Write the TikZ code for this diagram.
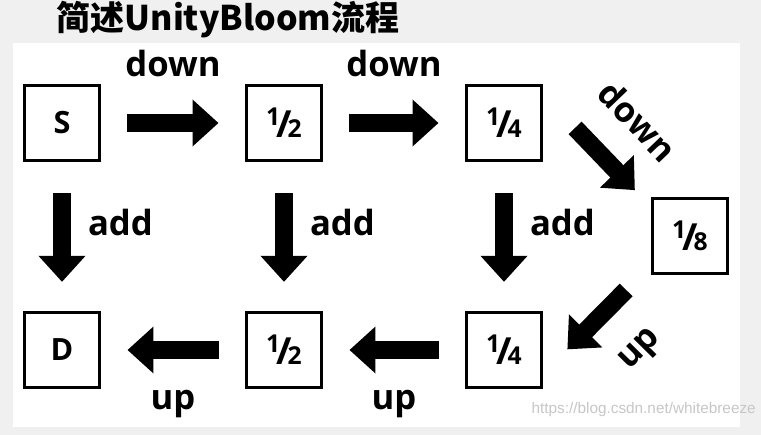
\documentclass[tikz,border=0pt]{standalone}
\usepackage{fontspec}
\setmainfont{Open Sans}
\newfontfamily\titlefont{Noto Sans CJK SC}
\newfontfamily\markfont{Liberation Sans}
\usetikzlibrary{arrows.meta}
\newcommand\frc[2]{\raisebox{9pt}{#1}\kern-3pt{\fontsize{28}{28}\selectfont /}\kern-3pt#2}

\begin{document}
\begin{tikzpicture}[x=0.75pt,y=-0.75pt,
   box/.style={rectangle,draw,line width=2.2pt,minimum width=56pt,
    minimum height=56pt,inner sep=0pt,font=\bfseries\fontsize{23}{23}\selectfont},
   frac/.style={box,font=\bfseries\fontsize{18.5}{18.5}\selectfont},
   fat/.style={line width=13.5pt,-{Triangle[length=19.5pt,width=34pt]}},
   lbl/.style={inner sep=0pt,outer sep=0pt,
    font=\bfseries\fontsize{26}{26}\selectfont}
    ]
  \useasboundingbox (0,0) rectangle (761,435);
  % -- backdrop
  \fill[black!6] (0,0) rectangle (761,435);
  \fill[white] (13,43) rectangle (740,427);

  % -- title
  \node[inner sep=0pt,font=\titlefont\bfseries\fontsize{25.5}{25.5}\selectfont]
    at (228,20) (title) {简述UnityBloom流程};

  % -- boxes
  \node[box] at (62,123) (s) {S};
  \node[frac] at (284,123) (h1) {\frc{1}{2}};
  \node[frac] at (504,123) (q1) {\frc{1}{4}};
  \node[frac] at (690,236) (e8) {\frc{1}{8}};
  \node[box] at (62,350) (d) {D};
  \node[frac] at (284,350) (h2) {\frc{1}{2}};
  \node[frac] at (504,350) (q2) {\frc{1}{4}};

  % -- down arrows
  \draw[fat,shorten <=20pt,shorten >=20pt] (s) -- (h1)
    node[lbl,midway,above=34.5pt] (down1) {down};
  \draw[fat,shorten <=20pt,shorten >=20pt] (h1) -- (q1)
    node[lbl,midway,above=34.5pt] (down2) {down};
  \draw[fat,shorten <=35pt,shorten >=17.7pt]
    ([yshift=-7.5pt]q1.north east) -- ([yshift=-7.5pt]e8.north west)
    node[lbl,pos=0.545,sloped,above=27.5pt] (down3) {down};

  % -- add arrows
  \draw[fat,shorten <=23.4pt,shorten >=22pt] (s) -- (d)
    node[lbl,midway,right=19.5pt,yshift=10.5pt] (add1) {add};
  \draw[fat,shorten <=23.4pt,shorten >=22pt] (h1) -- (h2)
    node[lbl,midway,right=19.5pt,yshift=10.5pt] (add2) {add};
  \draw[fat,shorten <=23.4pt,shorten >=22pt] (q1) -- (q2)
    node[lbl,midway,right=19.5pt,yshift=10.5pt] (add3) {add};

  % -- up arrows
  \draw[fat,shorten <=16pt,shorten >=7pt]
    ([xshift=-7.5pt]e8.south west) -- ([shift={(13.5pt,-4.5pt)}]q2.east)
    node[lbl,pos=0.47,sloped,below=30pt] (up3) {up};
  \draw[fat,shorten <=20pt,shorten >=20pt] (q2) -- (h2)
    node[lbl,midway,below=30pt] (up2) {up};
  \draw[fat,shorten <=20pt,shorten >=20pt] (h2) -- (d)
    node[lbl,midway,below=30pt] (up1) {up};

  % -- watermark
  \node[anchor=east,inner sep=0pt,text=black!22,
    font=\markfont\fontsize{11.5}{11.5}\selectfont]
    at (756,410) (mark) {https://blog.csdn.net/whitebreeze};

\end{tikzpicture}
\end{document}
